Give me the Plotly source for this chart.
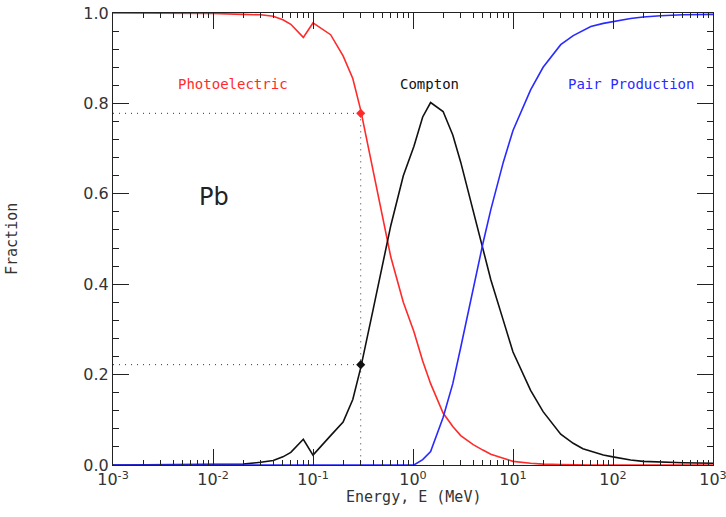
import plotly.graph_objects as go

# Energy grid (MeV)
energy = [0.001, 0.01, 0.02, 0.03, 0.04, 0.05, 0.06, 0.08, 0.1, 0.15, 0.2, 0.25, 0.3,
          0.4, 0.5, 0.6, 0.8, 1.0, 1.022, 1.25, 1.5, 2.0, 2.5, 3.0, 4.0, 5.0, 6.0, 8.0,
          10.0, 15.0, 20.0, 30.0, 40.0, 50.0, 60.0, 80.0, 100.0, 150.0, 200.0, 300.0,
          500.0, 1000.0]

photoelectric = [1.0, 0.999, 0.997, 0.996, 0.993, 0.985, 0.975, 0.946, 0.978, 0.952, 0.905,
                 0.855, 0.785, 0.65, 0.54, 0.46, 0.36, 0.30, 0.295, 0.23, 0.18, 0.115, 0.085,
                 0.065, 0.045, 0.033, 0.024, 0.015, 0.008, 0.004, 0.002, 0.001, 0.0, 0.0, 0.0,
                 0.0, 0.0, 0.0, 0.0, 0.0, 0.0, 0.0]

compton = [0.0, 0.0005, 0.002, 0.006, 0.01, 0.018, 0.028, 0.057, 0.022, 0.065, 0.095, 0.145,
           0.215, 0.345, 0.45, 0.53, 0.64, 0.70, 0.705, 0.77, 0.802, 0.782, 0.73, 0.67, 0.56,
           0.48, 0.41, 0.32, 0.25, 0.165, 0.118, 0.068, 0.048, 0.036, 0.03, 0.022, 0.018,
           0.011, 0.008, 0.006, 0.005, 0.004]

pair_production = [0.0, 0.0, 0.0, 0.0, 0.0, 0.0, 0.0, 0.0, 0.0, 0.0, 0.0, 0.0, 0.0, 0.0, 0.0,
                   0.0, 0.0, 0.0, 0.0, 0.012, 0.03, 0.105, 0.18, 0.26, 0.39, 0.49, 0.565,
                   0.67, 0.74, 0.83, 0.88, 0.93, 0.95, 0.962, 0.97, 0.977, 0.981, 0.988,
                   0.991, 0.994, 0.996, 0.997]

# Highlighted point
marker_energy = 0.3
marker_photo = 0.778
marker_compton = 0.222

x_tickvals = [0.001, 0.01, 0.1, 1, 10, 100, 1000]
x_ticktext = ["10<sup>-3</sup>", "10<sup>-2</sup>", "10<sup>-1</sup>", "10<sup>0</sup>",
              "10<sup>1</sup>", "10<sup>2</sup>", "10<sup>3</sup>"]
y_tickvals = [0.0, 0.2, 0.4, 0.6, 0.8, 1.0]
y_ticktext = ["0.0", "0.2", "0.4", "0.6", "0.8", "1.0"]

RED = "#ff2a2a"
BLUE = "#2a2aff"
BLACK = "#111111"
AX = "#222222"
FONT = "DejaVu Sans"
MONO = "DejaVu Sans Mono"

fig = go.Figure()

dot = dict(color="#333333", width=1, dash="1px,5px")
fig.add_trace(go.Scatter(x=[energy[0], marker_energy], y=[marker_photo, marker_photo],
                         mode="lines", line=dot, hoverinfo="skip", showlegend=False))
fig.add_trace(go.Scatter(x=[energy[0], marker_energy], y=[marker_compton, marker_compton],
                         mode="lines", line=dot, hoverinfo="skip", showlegend=False))
fig.add_trace(go.Scatter(x=[marker_energy, marker_energy], y=[marker_photo, 0],
                         mode="lines", line=dot, hoverinfo="skip", showlegend=False))

fig.add_trace(go.Scatter(x=energy, y=photoelectric, mode="lines",
                         line=dict(color=RED, width=1.6), name="Photoelectric"))
fig.add_trace(go.Scatter(x=energy, y=compton, mode="lines",
                         line=dict(color=BLACK, width=1.6), name="Compton"))
fig.add_trace(go.Scatter(x=energy, y=pair_production, mode="lines",
                         line=dict(color=BLUE, width=1.6), name="Pair Production"))

fig.add_trace(go.Scatter(x=[marker_energy], y=[marker_photo], mode="markers",
                         marker=dict(symbol="diamond", size=7, color=RED), showlegend=False))
fig.add_trace(go.Scatter(x=[marker_energy], y=[marker_compton], mode="markers",
                         marker=dict(symbol="diamond", size=7, color=BLACK), showlegend=False))

# invisible trace so mirrored top/right axes are drawn
fig.add_trace(go.Scatter(x=[energy[0]], y=[0], xaxis="x2", yaxis="y2", mode="markers",
                         marker=dict(opacity=0), hoverinfo="skip", showlegend=False))

lab_font = dict(family=MONO, size=14)
fig.add_annotation(x=-1.8, y=0.842, xref="x", yref="y", text="Photoelectric", showarrow=False,
                   font=dict(lab_font, color=RED))
fig.add_annotation(x=0.167, y=0.842, xref="x", yref="y", text="Compton", showarrow=False,
                   font=dict(lab_font, color=BLACK))
fig.add_annotation(x=2.18, y=0.842, xref="x", yref="y", text="Pair Production", showarrow=False,
                   font=dict(lab_font, color=BLUE))
fig.add_annotation(x=-1.993, y=0.593, xref="x", yref="y", text="Pb", showarrow=False,
                   font=dict(family=FONT, size=24, color="#222222"))

# axis titles
fig.add_annotation(x=0.5, y=0, xref="paper", yref="paper", yshift=-32, text="Energy, E (MeV)",
                   showarrow=False, yanchor="middle",
                   font=dict(family=MONO, size=15, color="#333333"))
fig.add_annotation(x=0, y=0.5, xref="paper", yref="paper", xshift=-101, text="Fraction",
                   showarrow=False, textangle=-90, xanchor="center",
                   font=dict(family=MONO, size=15, color="#333333"))

axis_common = dict(showgrid=False, zeroline=False, showline=True, linecolor=AX,
                   linewidth=1.2, ticks="inside", tickcolor=AX, tickwidth=1.2, ticklen=16,
                   automargin=False, ticklabeloverflow="allow",
                   tickfont=dict(family=FONT, size=16, color="#333333"))
xminor = dict(ticks="inside", ticklen=5, tickcolor=AX, tickwidth=1.2, dtick="D1")
yminor = dict(ticks="inside", ticklen=6, tickcolor=AX, tickwidth=1.2, dtick=0.04)

fig.update_layout(
    xaxis=dict(type="log", range=[-3, 3], tickvals=x_tickvals, ticktext=x_ticktext,
               minor=xminor, **axis_common),
    yaxis=dict(range=[0, 1], tickvals=y_tickvals, ticktext=y_ticktext, minor=yminor,
               **axis_common),
    xaxis2=dict(type="log", range=[-3, 3], tickvals=x_tickvals, overlaying="x", side="top",
                showticklabels=False, minor=xminor, **axis_common),
    yaxis2=dict(range=[0, 1], tickvals=y_tickvals, overlaying="y", side="right",
                showticklabels=False, minor=yminor, **axis_common),
    width=726, height=517, margin=dict(l=113, r=13, t=13, b=52),
    paper_bgcolor="white", plot_bgcolor="white", showlegend=False)

fig.write_html("out.html", config={"displayModeBar": False},
               post_script="document.body.style.margin='0px';")
